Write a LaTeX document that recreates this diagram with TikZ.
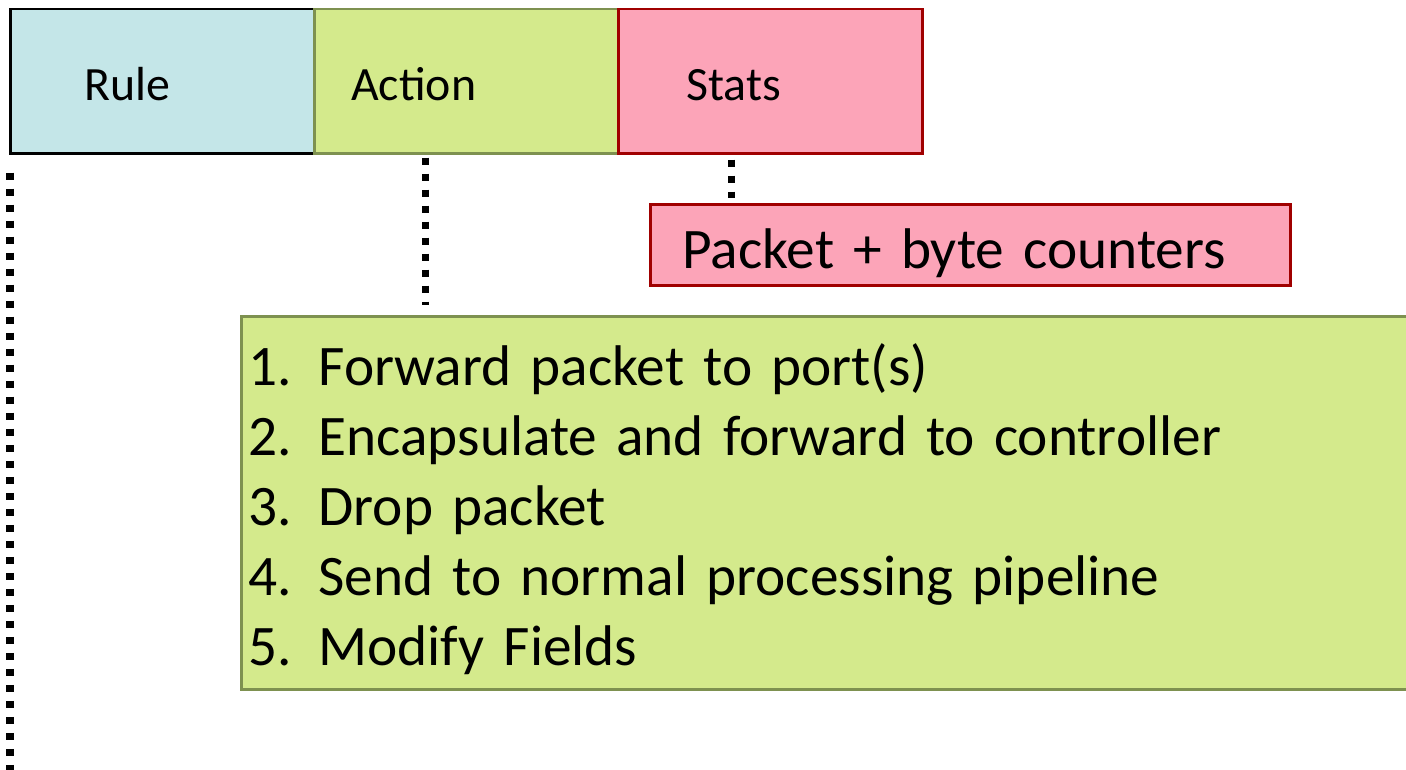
\documentclass[tikz,border=0pt]{standalone}
\usepackage{fontspec}
\setmainfont{Carlito}
\usetikzlibrary{positioning}

\definecolor{rulefill}{HTML}{C4E6E8}
\definecolor{actfill}{HTML}{D4EA8C}
\definecolor{actline}{HTML}{7E9150}
\definecolor{statfill}{HTML}{FCA4B8}
\definecolor{statline}{HTML}{A00000}

\tikzset{
  cell/.style={draw, line width=0.025cm, minimum width=3.04cm, minimum height=1.44cm,
    anchor=north west, align=left, text height=0.39cm, text depth=0cm, font=\fontsize{13.6}{16}\selectfont},
  dots/.style={line width=0.07cm, dash pattern=on 0.07cm off 0.09cm},
  bigfont/.style={font=\fontsize{16.3}{19.9}\selectfont}
}

\begin{document}
\begin{tikzpicture}[x=0.01cm, y=-0.01cm]
        \useasboundingbox (0,0) rectangle (1406,770);
        \clip (0,0) rectangle (1406,770);
        \fill[white] (0,0) rectangle (1406,770);
        % Table fields
        \node[cell, fill=rulefill, draw=black, inner xsep=0.74cm, text width=1.56cm] (rule) at (9,8) {Rule};
        \node[cell, fill=actfill, draw=actline, inner xsep=0.37cm, text width=2.30cm] (action) at (313,8) {Action};
        \node[cell, fill=statfill, draw=statline, inner xsep=0.68cm, text width=1.68cm] (stats) at (617,8) {Stats};
        % Counters
        \node[bigfont, draw=statline, fill=statfill, line width=0.03cm, anchor=west, align=left,
              inner xsep=0.32cm, inner ysep=0cm, text width=5.76cm, text height=0.58cm, text depth=0.12cm,
              minimum height=0.8cm] (counters) at (649,245)
              {Packet + byte counters};
        % Action list
        \node[bigfont, draw=actline, fill=actfill, line width=0.03cm, anchor=north west, align=left,
              inner xsep=0.07cm, inner ysep=0.05cm, text width=12cm, minimum height=3.73cm] (actlist) at (240,315)
              {\rule{0pt}{0.54cm}\makebox[0.7cm][l]{1.}Forward packet to port(s)\\
               \makebox[0.7cm][l]{2.}Encapsulate and forward to controller\\
               \makebox[0.7cm][l]{3.}Drop packet\\
               \makebox[0.7cm][l]{4.}Send to normal processing pipeline\\
               \makebox[0.7cm][l]{5.}Modify Fields};
        % Dotted links
        \coordinate (leftend) at (10,770);
        \draw[dots] ([xshift=0.01cm, yshift=-0.18cm]rule.south west) -- ([xshift=0.01cm]rule.south west |- leftend);
        \draw[dots] ([xshift=-0.41cm, yshift=-0.03cm]action.south) -- ([xshift=-0.41cm, yshift=0.1cm]action.south |- actlist.north);
        \draw[dots] ([xshift=-0.39cm, yshift=-0.05cm]stats.south) -- ([xshift=-0.39cm, yshift=0.05cm]stats.south |- counters.north);
\end{tikzpicture}
\end{document}
